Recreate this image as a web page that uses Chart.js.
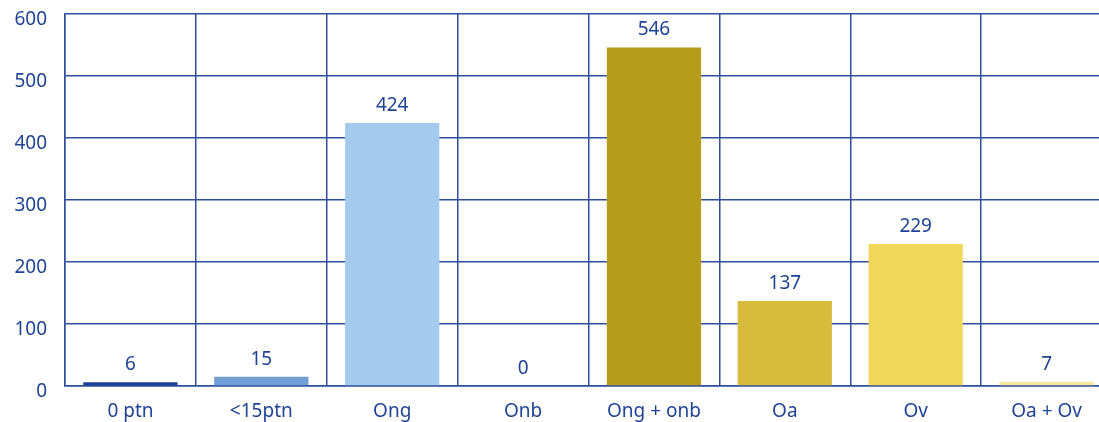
<!DOCTYPE html>
<html>
<head>
<meta charset="utf-8">
<script src="https://cdn.jsdelivr.net/npm/chart.js@4"></script>
<style>
	html, body { margin: 0; padding: 0; background: #fff; overflow: hidden; }
	#wrap { width: 1112px; height: 422px; position: relative; }
</style>
</head>
<body>
<div id="wrap"><canvas id="chart"></canvas></div>
<script>
// Chart data
const categories = ['0 ptn', '<15ptn', 'Ong', 'Onb', 'Ong + onb', 'Oa', 'Ov', 'Oa + Ov'];
const values = [6, 15, 424, 0, 546, 137, 229, 7];
const barColors = ['#1b3f95', '#6f9fd5', '#a4caee', '#a4caee', '#b59d1a', '#d8bb3a', '#efd758', '#f6e89a'];
const yTicks = [0, 100, 200, 300, 400, 500, 600];

const textColor = '#1f4394';
const lineColor = '#2f4f9d';
const fontFamily = '"Noto Sans", "DejaVu Sans", sans-serif';

// Value labels above the bars
const valueLabels = {
	id: 'valueLabels',
	afterDatasetsDraw(chart) {
		const ctx = chart.ctx;
		const meta = chart.getDatasetMeta(0);
		ctx.save();
		ctx.fillStyle = textColor;
		ctx.font = `19px ${fontFamily}`;
		ctx.textAlign = 'center';
		ctx.textBaseline = 'bottom';
		meta.data.forEach((bar, i) => {
			ctx.fillText(String(values[i]), bar.x, bar.y - 8);
		});
		ctx.restore();
	}
};

new Chart(document.getElementById('chart'), {
	type: 'bar',
	data: {
		labels: categories,
		datasets: [{
			data: values,
			backgroundColor: barColors,
			borderWidth: 0,
			categoryPercentage: 1,
			barPercentage: 0.72,
		}]
	},
	options: {
		responsive: true,
		maintainAspectRatio: false,
		animation: false,
		layout: { padding: { top: 14, right: 0, left: 0, bottom: 0 } },
		plugins: {
			legend: { display: false },
			tooltip: { enabled: false }
		},
		scales: {
			x: {
				grid: { color: lineColor, lineWidth: 1.5, drawTicks: false, offset: true },
				border: { color: lineColor, width: 1.5 },
				ticks: { color: textColor, font: { family: fontFamily, size: 19 }, padding: 14, maxRotation: 0, autoSkip: false },
				afterFit(scale) { scale.height = 36; }
			},
			y: {
				min: 0,
				max: 600,
				afterBuildTicks(scale) { scale.ticks = yTicks.map(v => ({ value: v })); },
				grid: { color: lineColor, lineWidth: 1.5, drawTicks: false },
				border: { color: lineColor, width: 1.5 },
				ticks: { color: textColor, font: { family: fontFamily, size: 19 }, padding: 18, labelOffset: 6 },
				afterFit(scale) {
					scale.width = 65;
					scale.paddingTop = 0;
					scale.paddingBottom = 0;
				}
			}
		}
	},
	plugins: [valueLabels]
});
</script>
</body>
</html>
